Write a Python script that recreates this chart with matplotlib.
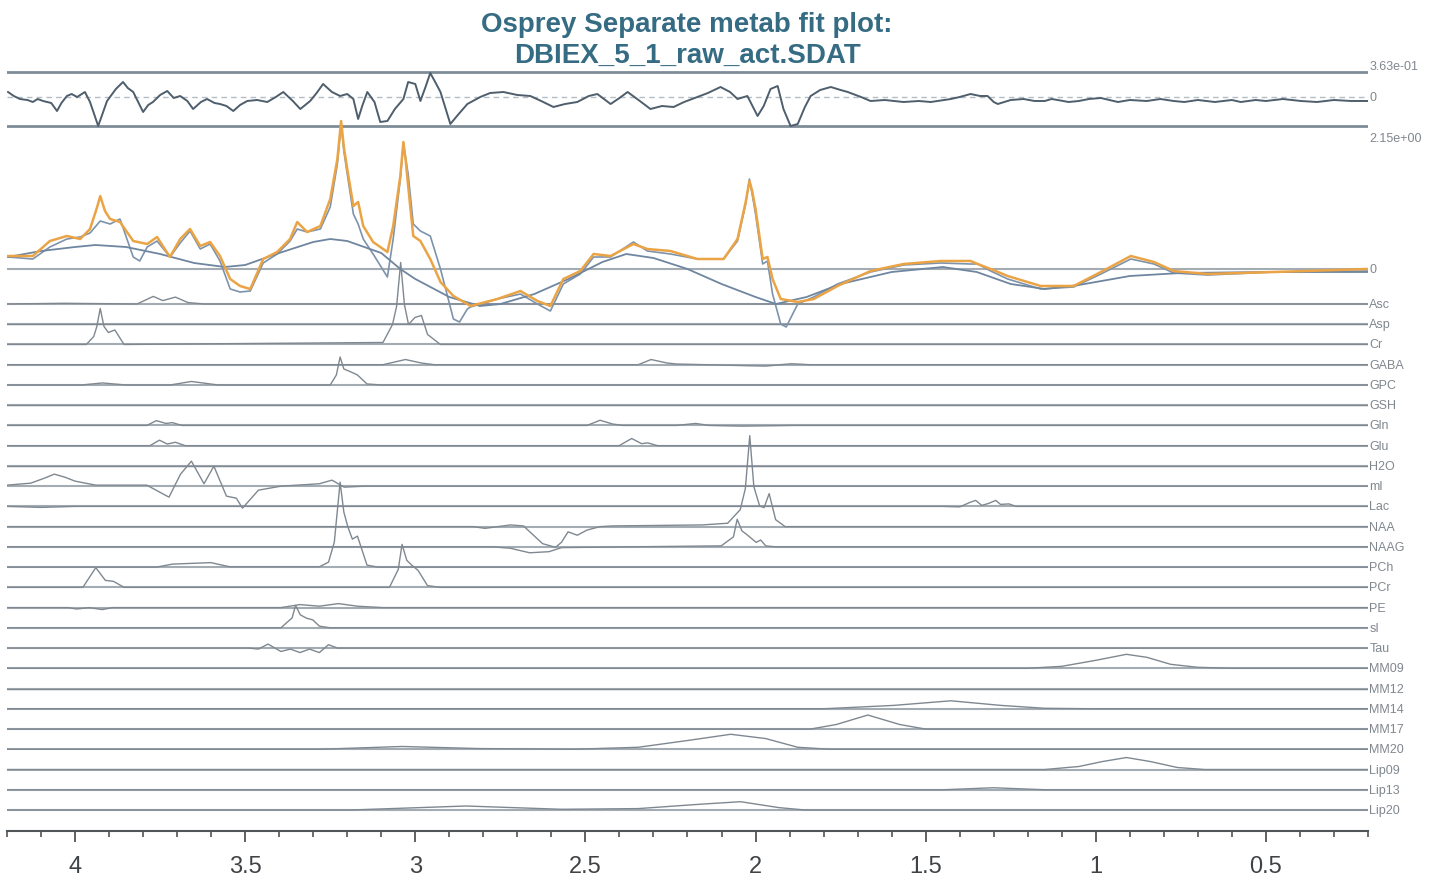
import matplotlib
matplotlib.use("Agg")
import matplotlib.pyplot as plt
from matplotlib.ticker import MultipleLocator, FormatStrFormatter

plt.rcParams['font.family'] = ['Liberation Sans', 'DejaVu Sans']

# ---- data (ppm, height in display px above zero) ----
title_lines = ["Osprey Separate metab fit plot:", "DBIEX_5_1_raw_act.SDAT"]
ppm_range = (4.2, 0.2)
res_labels = ["3.63e-01", "0"]
main_labels = ["2.15e+00", "0"]

residual = [(4.197, 5), (4.18, 1), (4.162, -2), (4.14, -3), (4.124, -5), (4.11, -2),
            (4.094, -4), (4.07, -6), (4.053, -14), (4.04, -6), (4.024, 1), (4.01, 3),
            (3.994, 0), (3.971, 5), (3.956, -5), (3.932, -29), (3.906, -4), (3.88, 8),
            (3.859, 15), (3.845, 9), (3.829, 5), (3.80, -15), (3.785, -8), (3.771, -5),
            (3.75, 2), (3.729, 6), (3.71, -1), (3.691, 1), (3.67, -4), (3.653, -12),
            (3.63, -5), (3.612, -2), (3.59, -6), (3.574, -7), (3.555, -9), (3.535, -14),
            (3.515, -8), (3.494, -4), (3.465, -3), (3.435, -5), (3.41, 0), (3.388, 5),
            (3.36, -4), (3.338, -12), (3.309, -4), (3.29, 4), (3.271, 13), (3.245, 5),
            (3.221, 1), (3.2, 3), (3.182, -2), (3.168, -22), (3.155, -8), (3.141, 5),
            (3.12, -5), (3.103, -25), (3.082, -24), (3.06, -12), (3.035, -2), (3.021, 15),
            (3.0, 13), (2.985, -4), (2.97, 10), (2.956, 24), (2.94, 14), (2.926, 5),
            (2.897, -27), (2.875, -18), (2.847, -7), (2.809, 0), (2.78, 4), (2.741, 5),
            (2.70, 2), (2.662, 1), (2.63, -4), (2.594, -10), (2.56, -7), (2.524, -5),
            (2.49, 1), (2.465, 3), (2.426, -7), (2.40, -1), (2.376, 5), (2.34, -4),
            (2.309, -12), (2.275, -9), (2.241, -10), (2.21, -5), (2.171, 0), (2.14, 4),
            (2.103, 10), (2.075, 5), (2.053, -2), (2.024, 1), (1.994, -19), (1.976, -9),
            (1.956, 8), (1.935, 11), (1.918, -12), (1.897, -29), (1.876, -27),
            (1.855, -10), (1.838, 1), (1.81, 7), (1.779, 10), (1.75, 7), (1.729, 5),
            (1.69, 0), (1.662, -4), (1.62, -3), (1.565, -5), (1.52, -4), (1.485, -5),
            (1.426, -2), (1.40, 0), (1.368, 3), (1.34, 1), (1.318, 1), (1.30, -5),
            (1.288, -7), (1.25, -3), (1.212, -2), (1.18, -4), (1.15, -4), (1.13, -2),
            (1.112, -3), (1.08, -5), (1.05, -4), (1.02, -2), (0.985, -1), (0.96, -3),
            (0.935, -5), (0.90, -3), (0.85, -4), (0.81, -2), (0.771, -4), (0.74, -5),
            (0.70, -3), (0.65, -5), (0.60, -3), (0.574, -5), (0.53, -3), (0.50, -4),
            (0.45, -2), (0.397, -4), (0.35, -5), (0.30, -3), (0.25, -4), (0.2, -4)]

fit = [(4.197, 13), (4.124, 13), (4.074, 28), (4.024, 33), (3.985, 30), (3.956, 40),
       (3.935, 62), (3.926, 73), (3.912, 58), (3.897, 50), (3.868, 47), (3.829, 28),
       (3.788, 25), (3.759, 32), (3.721, 12), (3.691, 30), (3.662, 40), (3.632, 23),
       (3.603, 27), (3.574, 13), (3.544, -10), (3.515, -17), (3.485, -20), (3.447, 10),
       (3.406, 17), (3.368, 30), (3.347, 47), (3.318, 37), (3.279, 43), (3.25, 70),
       (3.229, 110), (3.218, 148), (3.21, 122), (3.20, 100), (3.182, 63), (3.168, 67),
       (3.153, 43), (3.124, 27), (3.082, 17), (3.065, 43), (3.044, 93), (3.035, 127),
       (3.028, 108), (3.021, 83), (3.006, 33), (2.985, 28), (2.956, 10), (2.926, -13),
       (2.888, -27), (2.847, -35), (2.838, -37), (2.759, -30), (2.691, -22), (2.641, -32),
       (2.603, -37), (2.565, -10), (2.515, -2), (2.476, 15), (2.426, 13), (2.359, 25),
       (2.318, 20), (2.25, 18), (2.171, 10), (2.094, 10), (2.053, 30), (2.029, 67),
       (2.018, 88), (2.01, 78), (2.0, 60), (1.979, 10), (1.965, 12), (1.95, -10),
       (1.926, -30), (1.876, -33), (1.829, -30), (1.759, -17), (1.662, -2), (1.565, 5),
       (1.456, 8), (1.368, 8), (1.347, 5), (1.309, 0), (1.259, -7), (1.162, -17),
       (1.065, -17), (0.985, -3), (0.897, 13), (0.829, 7), (0.771, -2), (0.671, -5),
       (0.476, -3), (0.2, 0)]

data = [(4.197, 12), (4.124, 10), (4.074, 22), (4.024, 30), (3.985, 32), (3.956, 36),
        (3.926, 48), (3.897, 45), (3.868, 50), (3.829, 12), (3.81, 8), (3.788, 22),
        (3.759, 28), (3.721, 12), (3.691, 26), (3.662, 38), (3.632, 20), (3.603, 25),
        (3.574, 8), (3.544, -20), (3.515, -23), (3.485, -22), (3.447, 6), (3.406, 15),
        (3.368, 28), (3.347, 40), (3.318, 37), (3.279, 40), (3.25, 62), (3.229, 105),
        (3.218, 145), (3.21, 118), (3.20, 95), (3.182, 55), (3.168, 45), (3.153, 30),
        (3.124, 15), (3.082, -8), (3.065, 30), (3.044, 90), (3.035, 125), (3.028, 110),
        (3.021, 95), (3.006, 45), (2.985, 38), (2.956, 33), (2.926, 0), (2.888, -50),
        (2.87, -53), (2.847, -40), (2.838, -38), (2.759, -30), (2.691, -25), (2.641, -35),
        (2.603, -42), (2.565, -15), (2.515, -5), (2.476, 12), (2.426, 12), (2.359, 27),
        (2.318, 18), (2.25, 15), (2.171, 10), (2.094, 10), (2.053, 28), (2.029, 65),
        (2.018, 90), (2.01, 75), (2.0, 55), (1.979, 5), (1.965, 8), (1.95, -25),
        (1.926, -55), (1.91, -58), (1.876, -35), (1.829, -28), (1.759, -15), (1.662, -3),
        (1.565, 4), (1.456, 6), (1.368, 5), (1.347, 5), (1.309, -2), (1.259, -10),
        (1.162, -20), (1.065, -18), (0.985, -5), (0.897, 10), (0.829, 5), (0.771, -4),
        (0.671, -6), (0.476, -3), (0.2, -2)]

baseline = [(4.197, 12), (4.1, 18), (4.0, 22), (3.94, 24), (3.85, 22), (3.75, 15),
            (3.65, 6), (3.56, 2), (3.5, 4), (3.4, 16), (3.3, 27), (3.25, 30), (3.2, 28),
            (3.1, 16), (3.044, 0), (3.0, -10), (2.9, -28), (2.81, -37), (2.75, -35),
            (2.65, -25), (2.55, -10), (2.45, 7), (2.38, 15), (2.3, 11), (2.2, 0),
            (2.1, -15), (2.0, -28), (1.94, -35), (1.85, -28), (1.75, -15), (1.6, -3),
            (1.45, 2), (1.35, -3), (1.25, -15), (1.15, -20), (1.05, -16), (0.9, -7),
            (0.75, -4), (0.5, -3), (0.2, -3)]

metab_names = ["Asc", "Asp", "Cr", "GABA", "GPC", "GSH", "Gln", "Glu", "H2O", "mI",
               "Lac", "NAA", "NAAG", "PCh", "PCr", "PE", "sI", "Tau", "MM09", "MM12",
               "MM14", "MM17", "MM20", "Lip09", "Lip13", "Lip20"]

asc = [(4.2, 0), (4.033, 0.7), (3.818, 0), (3.77, 7.6), (3.742, 3.4), (3.705, 6.9),
       (3.668, 1.4), (3.62, 0), (0.2, 0)]
asp = [(4.2, 0), (0.2, 0)]
cr = [(4.2, 0), (3.967, 0), (3.945, 8), (3.936, 18), (3.926, 36), (3.915, 18),
      (3.902, 12), (3.883, 14.5), (3.856, 0), (3.095, 2), (3.067, 20), (3.055, 38),
      (3.043, 82), (3.032, 40), (3.02, 20), (3.001, 27), (2.982, 29), (2.964, 10),
      (2.926, 0), (0.2, 0)]
gaba = [(4.2, 0), (3.095, 0), (3.029, 5.2), (2.982, 1.7), (2.944, 0), (2.345, 0),
        (2.307, 5.2), (2.26, 1.7), (2.232, 0.7), (1.97, -1.4), (1.895, 1), (1.84, 0),
        (0.2, 0)]
gpc = [(4.2, 0), (3.98, 0), (3.92, 2), (3.85, 0), (3.72, 0), (3.658, 3.5), (3.58, 0),
       (3.25, 0), (3.232, 10), (3.221, 28), (3.21, 16), (3.189, 13), (3.17, 10),
       (3.142, 1), (3.1, 0), (0.2, 0)]
gsh = [(4.2, 0), (0.2, 0)]
gln = [(4.2, 0), (3.789, 0), (3.761, 4.8), (3.733, 2), (3.714, 2.8), (3.686, 0),
       (2.495, 0), (2.457, 5.2), (2.42, 1.4), (2.39, 0), (2.232, 0), (2.176, 2),
       (2.137, 0), (2.04, -0.7), (1.886, 0), (0.2, 0)]
glu = [(4.2, 0), (3.78, 0), (3.752, 5.5), (3.729, 1.7), (3.705, 3.4), (3.676, 0),
       (2.401, 0), (2.364, 7.2), (2.335, 2), (2.317, 2.8), (2.288, 0), (0.2, 0)]
h2o = [(4.2, 0), (0.2, 0)]
mi = [(4.2, 1), (4.13, 3), (4.09, 8), (4.061, 12), (4.03, 9), (4.0, 5), (3.939, 1),
      (3.789, 1), (3.724, -11), (3.69, 12), (3.658, 25), (3.621, 2.4), (3.592, 20),
      (3.555, -10), (3.526, -12), (3.508, -22), (3.461, -4), (3.395, 0), (3.282, 2.4),
      (3.245, 6), (3.209, -1), (3.15, 0), (0.2, 0)]
lac = [(4.2, 0), (4.1, -1), (4.0, 0), (1.45, 0), (1.40, -0.5), (1.37, 4), (1.353, 6),
       (1.335, 1), (1.315, 3), (1.294, 6), (1.28, 2), (1.255, 2.5), (1.235, 0), (0.2, 0)]
naa = [(4.2, 0), (2.83, 0), (2.795, -1.7), (2.72, 1.7), (2.682, 0.7), (2.626, -17),
       (2.588, -20.7), (2.57, -15.5), (2.551, -5.2), (2.524, -8.6), (2.495, -3.4),
       (2.457, 0), (2.42, 0.7), (2.157, 1.7), (2.082, 3.4), (2.045, 17), (2.03, 38),
       (2.017, 91), (2.005, 40), (1.988, 20.7), (1.975, 19), (1.96, 33), (1.941, 7),
       (1.913, 0), (0.2, 0)]
naag = [(4.2, 0), (2.77, 0), (2.72, -1.4), (2.664, -5.9), (2.607, -4.8), (2.57, -0.7),
        (2.101, 1), (2.065, 10), (2.054, 27.6), (2.04, 16), (2.026, 12.4), (1.998, 4.5),
        (1.985, 6.9), (1.97, 1), (1.94, 0), (0.2, 0)]
pch = [(4.2, 0), (3.76, 0), (3.714, 3), (3.601, 4.5), (3.545, 0.3), (3.282, 0.3),
       (3.255, 5), (3.238, 25), (3.221, 85), (3.21, 55), (3.198, 40), (3.185, 28),
       (3.17, 31), (3.142, 2), (3.11, 0), (0.2, 0)]
pcr = [(4.2, 0), (3.977, 0), (3.939, 19.7), (3.911, 7), (3.887, 6), (3.856, 0),
       (3.076, 0), (3.05, 18), (3.039, 43), (3.025, 27), (3.011, 22.4), (2.992, 17),
       (2.964, 1.7), (2.926, 0), (0.2, 0)]
pe = [(4.2, 0), (4.02, 0), (3.996, -1.4), (3.958, 0), (3.92, -2), (3.89, 0), (3.395, 0),
      (3.339, 3), (3.282, 1.4), (3.226, 4), (3.17, 1.4), (3.095, 0), (0.2, 0)]
si = [(4.2, 0), (3.395, 0), (3.362, 10), (3.352, 22.4), (3.338, 13), (3.32, 9.7),
      (3.301, 7.9), (3.282, 1.7), (3.25, 0), (0.2, 0)]
tau = [(4.2, 0), (3.489, 0), (3.461, -1), (3.433, 4), (3.395, -3.4), (3.367, -1),
       (3.339, -4.5), (3.311, -1), (3.282, -4.5), (3.255, 3.4), (3.229, 0), (0.2, 0)]
mm09 = [(4.2, 0), (1.2, 0), (1.1, 2), (1.0, 8), (0.91, 14), (0.85, 11), (0.78, 4),
        (0.7, 1), (0.6, 0), (0.2, 0)]
mm12 = [(4.2, 0), (0.2, 0)]
mm14 = [(4.2, 0), (1.801, 0), (1.594, 3.4), (1.426, 8), (1.279, 3.4), (1.15, 0.5),
        (1.0, 0), (0.2, 0)]
mm17 = [(4.2, 0), (1.838, 0), (1.763, 4.5), (1.67, 14), (1.576, 4.5), (1.501, 0),
        (0.2, 0)]
mm20 = [(4.2, 0), (3.282, 0), (3.039, 2.8), (2.814, 0.7), (2.534, 0), (2.345, 2),
        (2.195, 9), (2.073, 15), (1.97, 10.7), (1.876, 2), (1.78, 0), (0.2, 0)]
lip09 = [(4.2, 0), (1.15, 0), (1.05, 3), (0.98, 8), (0.91, 12), (0.84, 8), (0.76, 2),
         (0.68, 0), (0.2, 0)]
lip13 = [(4.2, 0), (1.45, 0), (1.3, 2), (1.15, 0), (0.2, 0)]
lip20 = [(4.2, 0), (3.189, 0), (2.851, 4), (2.57, 0.7), (2.345, 1.4), (2.157, 5.9),
         (2.044, 8.3), (1.932, 2.4), (1.855, 0), (0.2, 0)]

metab_traces = [asc, asp, cr, gaba, gpc, gsh, gln, glu, h2o, mi, lac, naa, naag, pch,
                pcr, pe, si, tau, mm09, mm12, mm14, mm17, mm20, lip09, lip13, lip20]

# ---- layout (rows in figure pixels, drawn as negative y) ----
W, H = 1435, 879
res_top, res_zero, res_bottom = 73, 98, 127
main_zero = 270
metab_first, metab_step = 305, 20.24

line_gray = '#a4acb3'
trace_gray = '#7f8891'


def xs(pts):
    return [p[0] for p in pts]


def ys(pts, row):
    return [-row + p[1] for p in pts]


fig = plt.figure(figsize=(W / 100, H / 100), dpi=100)
ax = fig.add_axes([7 / W, (H - 832) / H, (1368 - 7) / W, (832 - 55) / H])
ax.set_xlim(*ppm_range)
ax.set_ylim(-832, -55)

# residual panel
ax.axhline(-res_top, color='#7e8c97', lw=2.0, zorder=1)
ax.axhline(-res_bottom, color='#7e8c97', lw=2.0, zorder=1)
ax.axhline(-res_zero, color='#b4bcc4', lw=1.0, ls=(0, (4, 3)), zorder=1)
ax.plot(xs(residual), ys(residual, res_zero), color='#4e5e6c', lw=1.4, zorder=3)

# main spectrum
ax.axhline(-main_zero, color=line_gray, lw=1.5, zorder=1)
ax.plot(xs(data), ys(data, main_zero), color='#7d93ab', lw=1.2, zorder=3)
ax.plot(xs(fit), ys(fit, main_zero), color='#eba445', lw=1.8, zorder=4)
ax.plot(xs(baseline), ys(baseline, main_zero), color='#6f86a0', lw=1.3, zorder=3)

# individual metabolite fits
for i, (name, tr) in enumerate(zip(metab_names, metab_traces)):
    row = metab_first + i * metab_step
    ax.axhline(-row, color=line_gray, lw=1.5, zorder=1)
    ax.plot(xs(tr), ys(tr, row), color=trace_gray, lw=1.0, zorder=2)
    ax.annotate(name, xy=(1, -row), xycoords=('axes fraction', 'data'),
                xytext=(1, 0), textcoords='offset points', ha='left', va='center',
                fontsize=9, color='#80878e')

label_rows = [(res_labels[0], 67), (res_labels[1], res_zero),
              (main_labels[0], 139), (main_labels[1], main_zero)]
for txt, row in label_rows:
    ax.annotate(txt, xy=(1, -row), xycoords=('axes fraction', 'data'),
                xytext=(1, 0), textcoords='offset points', ha='left', va='center',
                fontsize=9, color='#80878e')

# title
fig.text(687 / W, 1 - 25 / H, title_lines[0], ha='center', va='center',
         fontsize=20, fontweight='bold', color='#356c83')
fig.text(687 / W, 1 - 56 / H, title_lines[1], ha='center', va='center',
         fontsize=20, fontweight='bold', color='#356c83')

# axis styling
for s in ['top', 'left', 'right']:
    ax.spines[s].set_visible(False)
ax.spines['bottom'].set_color('#505558')
ax.spines['bottom'].set_linewidth(1.5)
ax.set_yticks([])
ax.xaxis.set_major_locator(MultipleLocator(0.5))
ax.xaxis.set_minor_locator(MultipleLocator(0.1))
ax.xaxis.set_major_formatter(FormatStrFormatter('%g'))
ax.tick_params(axis='x', which='major', length=8, width=1.3, color='#505558',
               labelsize=17, labelcolor='#404346', pad=9)
ax.tick_params(axis='x', which='minor', length=4.5, width=1.2, color='#505558')

fig.savefig('out.png', dpi=100, facecolor='white')
